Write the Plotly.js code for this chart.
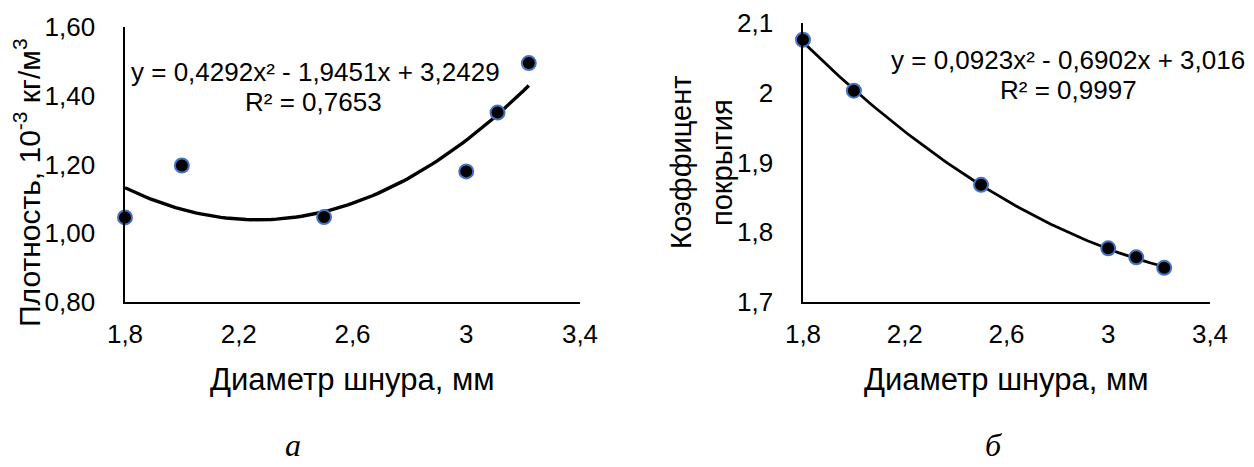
<!DOCTYPE html>
<html>
<head>
<meta charset="utf-8">
<script src="https://cdn.plot.ly/plotly-3.0.1.min.js"></script>
<style>html,body{margin:0;padding:0;background:#fff;}#chart{width:1254px;height:467px;}</style>
</head>
<body>
<div id="chart"></div>
<script>
// ---- data ----
const diameterA = [1.8, 2.0, 2.5, 3.0, 3.11, 3.22];
const densityA  = [1.046, 1.197, 1.047, 1.180, 1.351, 1.495];
const trendA    = [0.4292, -1.9451, 3.2429];   // a, b, c of y = a x^2 + b x + c

const diameterB = [1.8, 2.0, 2.5, 3.0, 3.11, 3.22];
const coverB    = [2.076, 2.003, 1.868, 1.777, 1.764, 1.749];
const trendB    = [0.0923, -0.6902, 3.016];

const xTickVals = [1.8, 2.2, 2.6, 3.0, 3.4];
const xTickText = ['1,8', '2,2', '2,6', '3', '3,4'];
const yATickVals = [0.8, 1.0, 1.2, 1.4, 1.6];
const yATickText = ['0,80', '1,00', '1,20', '1,40', '1,60'];
const yBTickVals = [1.7, 1.8, 1.9, 2.0, 2.1];
const yBTickText = ['1,7', '1,8', '1,9', '2', '2,1'];

const xTitle = 'Диаметр шнура, мм';
const yATitle = 'Плотность, 10<sup>-3</sup> кг/м<sup>3</sup>';
const yBTitleLines = ['Коэффицент', 'покрытия'];
const eqA = 'y = 0,4292x² - 1,9451x + 3,2429';
const r2A = 'R² = 0,7653';
const eqB = 'y = 0,0923x² - 0,6902x + 3,016';
const r2B = 'R² = 0,9997';
const labelA = 'а';
const labelB = 'б';

// trend curve from the regression coefficients shown on the chart
function curve(coef, x0, x1) {
  const xs = [], ys = [];
  const n = 80;
  for (let i = 0; i <= n; i++) {
    const x = x0 + (x1 - x0) * i / n;
    xs.push(x);
    ys.push(coef[0] * x * x + coef[1] * x + coef[2]);
  }
  return {xs, ys};
}
const cA = curve(trendA, diameterA[0], diameterA[diameterA.length - 1]);
const cB = curve(trendB, diameterB[0], diameterB[diameterB.length - 1]);

const W = 1254, H = 467;
const px = v => v / W;
const py = v => (H - v) / H;

const FONT = 'Liberation Sans, Arial, sans-serif';
const markerStyle = {size: 14, color: '#000000', line: {color: '#4472C4', width: 2}};

const traces = [
  {x: cA.xs, y: cA.ys, mode: 'lines', line: {color: '#000', width: 3.4}, xaxis: 'x', yaxis: 'y', hoverinfo: 'skip'},
  {x: diameterA, y: densityA, mode: 'markers', marker: markerStyle, xaxis: 'x', yaxis: 'y', cliponaxis: false},
  {x: cB.xs, y: cB.ys, mode: 'lines', line: {color: '#000', width: 2.8}, xaxis: 'x2', yaxis: 'y2', hoverinfo: 'skip'},
  {x: diameterB, y: coverB, mode: 'markers', marker: markerStyle, xaxis: 'x2', yaxis: 'y2', cliponaxis: false}
];

const axisCommon = {
  showgrid: false, zeroline: false, showline: true, linecolor: '#000', linewidth: 1.6,
  ticks: '', tickmode: 'array', tickfont: {family: FONT, size: 26, color: '#000'}, fixedrange: true
};

function ann(text, x, y, size, extra) {
  return Object.assign({text: text, xref: 'paper', yref: 'paper', x: px(x), y: py(y),
    xanchor: 'center', yanchor: 'middle', showarrow: false,
    font: {family: FONT, size: size, color: '#000'}}, extra || {});
}

const layout = {
  width: W, height: H,
  margin: {l: 0, r: 0, t: 0, b: 0},
  paper_bgcolor: '#fff', plot_bgcolor: '#fff',
  showlegend: false,
  font: {family: FONT, color: '#000'},
  xaxis: Object.assign({}, axisCommon, {domain: [px(125), px(580)], range: [1.8, 3.4], tickvals: xTickVals, ticktext: xTickText, anchor: 'y', ticklabelstandoff: 8}),
  yaxis: Object.assign({}, axisCommon, {domain: [py(302), py(27)], range: [0.8, 1.6], tickvals: yATickVals, ticktext: yATickText, anchor: 'x', ticklabelstandoff: 23}),
  xaxis2: Object.assign({}, axisCommon, {domain: [px(803), px(1210)], range: [1.8, 3.4], tickvals: xTickVals, ticktext: xTickText, anchor: 'y2', ticklabelstandoff: 8}),
  yaxis2: Object.assign({}, axisCommon, {domain: [py(302), py(23)], range: [1.7, 2.1], tickvals: yBTickVals, ticktext: yBTickText, anchor: 'x2', ticklabelstandoff: 23}),
  annotations: [
    ann(xTitle, 352, 379, 31),
    ann(xTitle, 1006, 379, 31),
    ann(yATitle, 27, 183, 30, {textangle: -90}),
    ann(yBTitleLines[0], 681, 163, 29, {textangle: -90}),
    ann(yBTitleLines[1], 722, 163, 29, {textangle: -90}),
    ann(eqA, 315, 72, 26),
    ann(r2A, 313, 102, 26),
    ann(eqB, 1068, 60, 26),
    ann(r2B, 1068, 90, 26),
    ann(labelA, 293, 445, 32, {font: {family: 'Liberation Serif, Times New Roman, serif', size: 32, color: '#000', style: 'italic'}}),
    ann(labelB, 993, 445, 32, {font: {family: 'Liberation Serif, Times New Roman, serif', size: 32, color: '#000', style: 'italic'}})
  ]
};

Plotly.newPlot('chart', traces, layout, {staticPlot: true, displayModeBar: false});
</script>
</body>
</html>
